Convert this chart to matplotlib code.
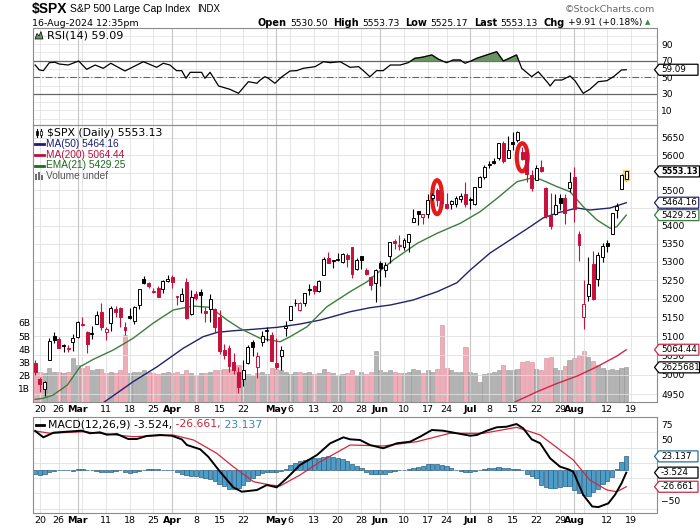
import matplotlib
matplotlib.use('Agg')
import matplotlib.pyplot as plt
import numpy as np
from matplotlib.patches import Ellipse, Polygon, Rectangle
from matplotlib.lines import Line2D
from matplotlib.ticker import FixedLocator, FixedFormatter, NullLocator

# ---- daily candles, 16-Feb-2024 .. 16-Aug-2024 (126 sessions) ----
prev_close = 5029.73
opens = [5031.13, 4989.32, 4963.03, 5038.83, 5100.92, 5093.00, 5074.60, 5067.20, 5085.36,
         5098.51, 5130.99, 5110.52, 5108.03, 5132.38, 5164.46, 5111.96, 5134.30, 5173.49, 5175.14,
         5123.31, 5154.77, 5139.09, 5181.69, 5253.43, 5242.48, 5219.52, 5228.85, 5226.31, 5248.03,
         5257.97, 5204.29, 5194.37, 5244.05, 5158.95, 5211.37, 5217.03, 5167.88, 5172.95, 5171.51,
         5149.67, 5064.59, 5068.97, 5031.52, 5005.44, 4987.33, 5028.85, 5084.65, 5019.88, 5084.65,
         5114.13, 5103.78,
         5029.03, 5049.32, 5122.78, 5142.42, 5187.20, 5168.98, 5189.03, 5225.49, 5233.08, 5221.10,
         5263.26, 5310.07, 5303.10, 5305.35, 5298.69, 5319.28, 5340.26, 5281.45, 5315.91, 5278.73,
         5259.77, 5243.21,
         5297.15, 5278.24, 5314.48, 5357.80, 5343.81, 5341.22, 5353.00, 5409.13, 5441.93, 5424.08,
         5431.11, 5476.15, 5499.99, 5466.77, 5459.58, 5460.73, 5460.71, 5473.59, 5488.48,
         5471.08, 5461.84, 5507.44, 5537.91, 5572.75, 5584.24, 5591.26, 5635.21, 5590.76, 5638.16,
         5644.09, 5610.07, 5608.56, 5543.37, 5528.04, 5565.30, 5505.84, 5428.70, 5433.67, 5476.55,
         5478.73, 5505.59,
         5537.84, 5376.63, 5151.14, 5206.42, 5293.13, 5252.57, 5312.70, 5351.58, 5376.98, 5442.72,
         5501.96, 5530.50]
highs = [5038.70, 4993.71, 4983.21, 5094.39, 5111.06, 5097.66, 5080.69, 5077.37, 5104.99,
         5140.33, 5149.67, 5114.54, 5127.97, 5165.62, 5189.26, 5124.66, 5179.87, 5179.14, 5176.85,
         5136.86, 5175.60, 5180.31, 5226.19, 5261.10, 5246.09, 5229.09, 5235.16, 5249.26, 5264.85,
         5263.95, 5208.34, 5228.75, 5256.59, 5222.18, 5219.57, 5224.81, 5178.43, 5211.78, 5175.03,
         5168.43, 5079.84, 5077.96, 5056.66, 5019.02, 5038.84, 5076.12, 5089.48, 5057.75, 5114.62,
         5123.49, 5110.83,
         5096.12, 5073.21, 5139.12, 5181.00, 5200.23, 5191.95, 5215.30, 5239.66, 5237.26, 5250.37,
         5311.76, 5325.49, 5305.45, 5325.32, 5324.32, 5323.18, 5341.88, 5311.65, 5315.91, 5282.27,
         5260.21, 5280.33,
         5302.11, 5298.80, 5354.16, 5362.35, 5375.08, 5365.79, 5375.95, 5447.25, 5441.93, 5432.39,
         5488.50, 5490.38, 5505.53, 5478.31, 5490.66, 5472.88, 5483.14, 5490.81, 5523.64,
         5479.55, 5509.69, 5539.27, 5570.33, 5583.11, 5590.75, 5635.39, 5642.45, 5655.56, 5666.94,
         5669.67, 5622.49, 5614.05, 5557.50, 5570.36, 5585.34, 5508.04, 5491.59, 5488.32, 5487.74,
         5489.46, 5551.51,
         5566.16, 5383.89, 5250.89, 5312.34, 5330.64, 5326.07, 5351.96, 5360.39, 5436.50, 5463.22,
         5546.23, 5553.73]
lows = [4999.52, 4955.02, 4946.00, 5038.83, 5081.46, 5068.91, 5057.29, 5058.35, 5061.89,
        5094.16, 5127.18, 5056.82, 5092.22, 5131.59, 5117.50, 5091.14, 5114.48, 5151.88, 5123.30,
        5104.35, 5145.47, 5131.59, 5171.55, 5240.66, 5229.87, 5216.09, 5203.42, 5213.92, 5245.82,
        5229.20, 5184.05, 5194.37, 5146.06, 5157.21, 5197.35, 5160.78, 5138.70, 5138.77, 5107.94,
        5052.47, 5039.83, 5007.25, 5001.89, 4953.56, 4969.40, 5027.96, 5047.02, 4990.58, 5073.14,
        5088.65, 5035.31,
        5013.45, 5011.05, 5101.22, 5142.42, 5178.96, 5165.86, 5180.41, 5209.68, 5211.16, 5217.98,
        5263.26, 5296.19, 5283.59, 5302.40, 5297.87, 5286.01, 5256.93, 5278.39, 5280.89, 5262.70,
        5222.10, 5191.68,
        5234.32, 5257.63, 5297.64, 5335.36, 5331.33, 5331.52, 5327.25, 5409.13, 5402.51, 5403.75,
        5420.40, 5471.32, 5455.56, 5452.03, 5447.59, 5446.56, 5451.87, 5467.54, 5451.12,
        5446.53, 5458.43, 5507.42, 5531.63, 5562.51, 5574.57, 5586.44, 5576.53, 5590.44, 5614.75,
        5639.02, 5584.81, 5522.81, 5497.04, 5528.04, 5550.90, 5419.98, 5390.95, 5430.70, 5444.44,
        5403.68, 5495.71,
        5410.42, 5302.03, 5119.26, 5193.56, 5195.54, 5233.03, 5300.53, 5328.12, 5376.98, 5421.92,
        5501.96, 5525.17]
closes = [5005.57, 4975.51, 4981.80, 5087.03, 5088.80, 5069.53, 5078.18, 5069.76, 5096.27,
          5137.08, 5130.95, 5078.65, 5104.76, 5157.36, 5123.69, 5117.94, 5175.27, 5165.31, 5150.48,
          5117.09, 5149.42, 5178.51, 5224.62, 5241.53, 5234.18, 5218.19, 5203.58, 5248.49, 5254.35,
          5243.77, 5205.81, 5211.49, 5147.21, 5204.34, 5202.39, 5209.91, 5160.64, 5199.06, 5123.41,
          5061.82, 5051.41, 5022.21, 5011.12, 4967.23, 5010.60, 5070.55, 5071.63, 5048.42, 5099.96,
          5116.17, 5035.69,
          5018.39, 5064.20, 5127.79, 5180.74, 5187.70, 5187.67, 5214.08, 5222.68, 5221.42, 5246.68,
          5308.15, 5297.10, 5303.27, 5308.13, 5321.41, 5307.01, 5267.84, 5304.72, 5306.04, 5266.95,
          5235.48, 5277.51,
          5283.40, 5291.34, 5354.03, 5352.96, 5346.99, 5360.79, 5375.32, 5421.03, 5433.74, 5431.60,
          5473.23, 5487.03, 5473.17, 5464.62, 5447.87, 5469.30, 5477.90, 5482.87, 5460.48,
          5475.09, 5509.01, 5537.02, 5567.19, 5572.85, 5576.98, 5633.91, 5584.54, 5615.35, 5631.22,
          5667.20, 5588.27, 5544.59, 5505.00, 5564.41, 5555.74, 5427.13, 5399.22, 5459.10, 5463.54,
          5436.44, 5522.30,
          5446.68, 5346.56, 5186.33, 5240.03, 5199.50, 5319.31, 5344.16, 5344.39, 5434.43, 5455.21,
          5543.22, 5553.13]
# volume, billions
volume = [2.5, 2.3, 2.2, 2.6, 2.3, 2.3, 2.2, 2.3, 3.3,
          2.8, 2.6, 2.7, 2.4, 2.5, 2.5, 2.2, 2.3, 2.2, 2.4, 5.1, 2.2, 2.3, 2.3, 2.4, 2.3, 2.2, 2.1, 2.2, 2.3,
          2.2, 2.3, 2.1, 2.4, 2.2, 2.0, 2.2, 2.2, 2.3, 2.4, 2.4, 2.5, 2.5, 2.4, 2.8, 2.3, 2.1, 2.0, 2.2, 2.3,
          2.1, 2.6,
          2.5, 2.4, 2.3, 2.1, 2.3, 2.3, 2.2, 2.3, 2.1, 2.2, 2.5, 2.3, 2.2, 2.0, 2.1, 2.2, 2.4, 2.0, 2.3, 2.1,
          2.3, 3.9,
          2.4, 2.3, 2.4, 2.3, 2.2, 2.2, 2.3, 2.5, 2.4, 2.2, 2.4, 2.3, 2.5, 5.8, 2.6, 2.4, 2.3, 2.3, 4.2,
          2.3, 2.2, 1.5, 2.1, 2.2, 2.3, 2.4, 2.8, 2.4, 2.4, 2.5, 3.0, 3.1, 3.0, 2.5, 2.4, 3.3, 3.4, 2.6, 2.4,
          2.7, 3.2,
          3.3, 3.6, 3.9, 3.4, 3.1, 2.8, 2.6, 2.4, 2.5, 2.4, 2.6, 2.625681]

# overlays (x = session index)
ma50_x = [14.4, 20.7, 25.8, 31.3, 35.5, 38.5, 41.9, 46.1, 51.2, 56.0, 60.3, 66.6, 70.8, 75.1,
          79.9, 85.0, 89.2, 92.0, 96.2, 100.4, 104.7, 107.4, 110.4, 114.6, 117.3, 121.6, 125]
ma50 = [4927.6, 4981.4, 5020.2, 5068.2, 5098.6, 5110.2, 5114.4, 5118.2, 5123.5, 5132.2, 5142.8,
        5164.9, 5175.6, 5182.9, 5196.2, 5218.6, 5242.9, 5277.4, 5324.0, 5359.9, 5396.9, 5421.2,
        5435.2, 5449.3, 5443.6, 5449.3, 5464.16]
ma200_x = [101.1, 106.1, 110.4, 114.6, 118.8, 123.0, 125]
ma200 = [4927.6, 4955.7, 4977.3, 4996.1, 5020.2, 5048.0, 5064.44]
ema21_x = [0, 1.7, 3.8, 6.8, 9.5, 12.3, 16.5, 20.7, 24.9, 29.2, 33.4, 37.0, 40.6, 43.3, 47.6,
           51.8, 53.9, 57.5, 61.7, 66.6, 70.2, 75.7, 80.8, 85.0, 89.9, 94.1, 97.7, 101.9, 104.7,
           106.8, 110.4, 113.1, 115.9, 118.8, 121.6, 123.0, 125]
ema21 = [4936.3, 4938.9, 4947.3, 4972.9, 5020.2, 5039.4, 5063.7, 5094.4, 5134.0, 5169.5, 5180.1,
         5176.7, 5142.8, 5120.8, 5094.4, 5085.5, 5098.6, 5125.1, 5178.3, 5218.6, 5245.6, 5304.7,
         5350.7, 5378.5, 5406.4, 5438.9, 5476.7, 5523.8, 5533.5, 5530.7, 5509.5, 5495.4, 5452.9,
         5415.6, 5392.4, 5396.9, 5429.25]

rsi_x = [0, 0.9, 1.75, 3.0, 4.2, 5.1, 7.0, 9.2, 10.9, 12.7, 14.4, 16.0, 19.0, 22.9, 25.7, 27.1,
         28.5, 29.9, 31.0, 31.9, 32.8, 35.2, 35.9, 37.0, 38.8, 41.2, 43.0, 45.1, 46.9, 47.6, 48.6,
         49.3, 50.7, 52.2, 53.9, 55.3, 56.7, 59.2, 61.0, 62.4, 64.5, 66.6, 68.4, 69.4, 70.8, 72.2,
         73.6, 75.1, 77.2, 78.9, 80.3, 81.8, 83.9, 85.3, 87.0, 88.4, 89.9, 90.9, 92.3, 93.4, 95.5,
         97.6, 99.0, 101.8, 102.9, 105.0, 106.4, 108.5, 108.9, 109.9, 111.4, 113.1, 114.2, 115.9,
         117.3, 119.1, 120.9, 122.3, 124.0, 125]
rsi = [64.8, 58.8, 58.0, 67.6, 68.1, 66.0, 64.8, 69.6, 59.6, 64.8, 60.8, 66.9, 57.6, 68.8, 62.0,
       66.9, 64.8, 58.0, 58.0, 48.8, 56.0, 56.0, 48.8, 56.0, 39.5, 35.5, 30.7, 44.7, 42.8, 46.7,
       50.7, 48.8, 42.8, 50.7, 57.6, 58.0, 60.8, 62.8, 68.8, 67.6, 68.8, 62.0, 62.8, 58.0, 50.7,
       58.0, 58.0, 64.8, 64.8, 67.6, 72.9, 74.1, 76.9, 71.7, 67.6, 70.8, 70.8, 66.9, 70.0, 72.9,
       76.9, 80.8, 69.6, 76.9, 60.8, 50.7, 56.7, 42.8, 39.5, 46.7, 46.7, 51.6, 45.5, 30.7, 35.5,
       44.7, 45.9, 50.7, 58.8, 59.09]

macd_x = [0, 1.75, 3.9, 6.7, 9.9, 11.6, 13.7, 15.2, 17.3, 19.7, 21.5, 23.6, 26.4, 28.9, 31.0,
          32.1, 34.9, 36.6, 39.1, 41.9, 43.7, 46.9, 49.0, 51.1, 53.2, 56.0, 59.6, 62.4, 65.2, 66.6,
          68.7, 70.8, 73.6, 76.5, 79.3, 81.4, 83.9, 86.3, 89.2, 92.0, 93.4, 95.5, 97.6, 99.7, 101.8,
          103.2, 105.0, 106.8, 108.9, 111.0, 112.7, 113.8, 115.9, 117.8, 119.1, 121.2, 122.6, 124.0, 125]
macd = [64.8, 54.4, 62.0, 63.6, 65.3, 61.0, 62.6, 58.7, 59.8, 51.6, 51.6, 56.6, 58.2, 57.0, 51.1,
        41.8, 34.8, 22.6, -2.0, -27.6, -34.8, -32.0, -23.8, -27.6, -12.8, 9.0, 25.4, 44.6, 54.4,
        51.1, 50.0, 41.8, 36.4, 44.6, 47.2, 55.4, 66.4, 65.2, 61.0, 57.0, 58.2, 65.2, 70.8, 71.8,
        76.2, 69.2, 51.1, 44.6, 20.0, 6.2, 2.0, -2.0, -40.0, -59.0, -60.0, -54.0, -40.0, -21.0, -3.524]
sig_x = [0, 3.2, 10.2, 20.8, 29.2, 33.5, 38.4, 41.9, 46.2, 49.7, 51.8, 56.0, 60.3, 66.6, 73.6,
         80.7, 87.7, 94.8, 101.8, 104.7, 106.8, 111.0, 113.8, 117.3, 120.9, 123.0, 125]
signal = [64.8, 61.0, 63.6, 55.4, 58.2, 50.0, 28.2, 6.2, -18.4, -23.8, -25.4, -7.4, 14.4, 41.8,
          40.2, 47.2, 61.0, 61.0, 70.8, 63.6, 58.2, 33.6, 17.2, -15.6, -32.0, -34.8, -26.661]
hist = [-6, -7, -5, -3, -1, 0, 1, 0, -1,
        2, 2, 1, 0, -1, -2, -2, -2, -1, 0,
        -3, -4, -3, -1, 1, 3, 3, 2, 1, 1,
        0, -2, -5, -8, -9, -9, -10, -12, -14, -18,
        -22, -26, -30, -31, -29, -24, -18, -12, -7, -4,
        -3, -2, -3, -1, 3, 9, 13, 16, 18, 19,
        20, 21, 22, 23, 22, 20, 19, 15, 11, 8,
        4, -2, -5, -6, -6, -5, -2, -1, 0, 1,
        2, 4, 6, 8, 10, 11, 11, 9, 7, 4,
        1, -1, -3, -3, -1, 1, 3, 4, 4, 5,
        4, 4, 3, 3, 1, -5, -9, -13, -23, -27,
        -28, -28, -27, -25, -26, -32, -37, -40, -42, -36,
        -30, -22, -17, -10, 3, 14, 23.137]

week_idx = [1, 5, 10, 15, 20, 25, 29, 34, 39, 44, 49, 54, 59, 64, 69, 73, 78, 83, 87, 92, 96,
            101, 106, 111, 116, 121, 126]
month_idx = [9, 29, 51, 73, 92, 114]
tick_idx = [1, 5, 9, 15, 20, 25, 29, 34, 39, 44, 51, 54, 59, 64, 69, 73, 78, 83, 87, 92, 96,
            101, 106, 111, 114, 121, 126]
tick_lbl = ['20', '26', 'Mar', '11', '18', '25', 'Apr', '8', '15', '22', 'May', '6', '13', '20',
            '28', 'Jun', '10', '17', '24', 'Jul', '8', '15', '22', '29', 'Aug', '12', '19']
price_ticks = list(range(4950, 5651, 50))

assert len(opens) == len(highs) == len(lows) == len(closes) == len(volume) == len(hist) == 126

RED = '#c8103c'
W, H = 700, 530
fig = plt.figure(figsize=(W / 100, H / 100), dpi=100)
fig.patch.set_facecolor('white')


def fp(x, y):
    return (x / W, 1 - y / H)


def panel(top, bottom):
    ax = fig.add_axes([33 / W, 1 - bottom / H, 624 / W, (bottom - top) / H])
    ax.set_xlim(-0.45, 131.5)
    for s in ax.spines.values():
        s.set_color('#8c8c8c')
        s.set_linewidth(0.8)
    ax.tick_params(length=0, labelsize=6.6, pad=3)
    for i in week_idx:
        ax.axvline(i, color='#e0e0e0', lw=0.6, zorder=0.5)
    for i in month_idx:
        ax.axvline(i, color='#c6c6c6', lw=0.8, zorder=0.6)
    return ax


def date_axis(ax):
    ax.set_xticks(tick_idx)
    ax.set_xticklabels(tick_lbl, fontsize=6.8)
    for lab in ax.get_xticklabels():
        if lab.get_text().isalpha():
            lab.set_fontweight('bold')
    ax.tick_params(axis='x', pad=2)


ax_rsi = panel(28, 125)
ax_p = panel(125, 402)
ax_m = panel(417, 513)
ax_v = ax_p.twinx()
ax_v.set_zorder(1)
ax_p.set_zorder(2)
ax_p.patch.set_visible(False)

x = np.arange(len(closes))
o = np.array(opens); hi = np.array(highs); lo = np.array(lows); c = np.array(closes)
prev = np.concatenate([[prev_close], c[:-1]])
col = np.where(c >= prev, 'black', RED)
face = np.where(c >= o, 'white', col)

# ---- RSI ----
ax_rsi.set_ylim(-7.5, 109.4)
for v in range(0, 101, 10):
    ax_rsi.axhline(v, color='#e4e4e4', lw=0.6, zorder=0.4)
ax_rsi.axhline(70, color='#666666', lw=0.9, zorder=1)
ax_rsi.axhline(30, color='#666666', lw=0.9, zorder=1)
ax_rsi.axhline(50, color='#666666', lw=0.8, dashes=(6, 2, 1, 2), zorder=1)
r = np.array(rsi)
ax_rsi.fill_between(rsi_x, r, 70, where=r > 70, interpolate=True, color='#6b9463', zorder=2)
ax_rsi.plot(rsi_x, rsi, color='black', lw=0.9, zorder=3)
ax_rsi.yaxis.tick_right()
ax_rsi.set_yticks([10, 30, 50, 70, 90])
ax_rsi.set_xticks([])

# ---- volume (scale labels in the left margin) ----
ax_v.bar(x, np.array(volume) * 1e9, width=0.86,
         color=np.where(c >= prev, '#b3b3b3', '#efadb8'),
         edgecolor=np.where(c >= prev, '#959595', '#d68c9a'), lw=0.4, zorder=2)
ax_v.set_ylim(0, 21e9)
ax_v.set_xlim(-0.45, 131.5)
ax_v.set_yticks([v * 1e9 for v in range(1, 7)])
ax_v.set_yticklabels([f'{v}B' for v in range(1, 7)])
ax_v.yaxis.set_ticks_position('left')
ax_v.tick_params(axis='y', length=0, pad=2, labelsize=6.6, labelleft=True, labelright=False)
for s in ax_v.spines.values():
    s.set_visible(False)

# ---- price ----
ax_p.set_yscale('log')
ax_p.set_ylim(4929.6, 5688)
ax_p.yaxis.set_major_locator(FixedLocator(price_ticks))
ax_p.yaxis.set_major_formatter(FixedFormatter([str(t) for t in price_ticks]))
ax_p.yaxis.set_minor_locator(NullLocator())
ax_p.yaxis.tick_right()
ax_p.tick_params(axis='y', length=0, labelsize=6.6, pad=3)
for t in price_ticks:
    ax_p.axhline(t, color='#e0e0e0', lw=0.6, zorder=0.5)

# marked sessions
ax_p.add_patch(Ellipse((85, 5480), 2.1, 96, fc='white', ec='#e31b1b', lw=3, zorder=2.5))
ax_p.add_patch(Ellipse((103, 5594), 2.3, 81, fc='white', ec='#e31b1b', lw=3, zorder=2.5))

ax_p.plot(ma50_x, ma50, color='#22226e', lw=1.0, zorder=2.8)
ax_p.plot(ma200_x, ma200, color='#cc2848', lw=1.0, zorder=2.8)
ax_p.plot(ema21_x, ema21, color='#3d7d3d', lw=1.0, zorder=2.8)

ax_p.bar(x[-1:], [max(abs(c[-1] - o[-1]), 1)], bottom=[min(c[-1], o[-1])], width=0.9,
         fc='none', ec='#f3d36b', lw=2.5, zorder=3.5)
ax_p.vlines(x, lo, hi, colors=col, lw=0.8, zorder=3)
ax_p.bar(x, np.maximum(np.abs(c - o), 0.8), bottom=np.minimum(c, o), width=0.62,
         color=face, edgecolor=col, lw=0.7, zorder=4)
date_axis(ax_p)

# ---- MACD ----
ax_m.set_ylim(-69.7, 87.7)
for v in [-62.5, -37.5, -12.5, 12.5, 37.5, 62.5]:
    ax_m.axhline(v, color='#e0e0e0', lw=0.6, zorder=0.4)
ax_m.bar(x, hist, width=0.9, color='#4d9dcb', edgecolor='#2d5f80', lw=0.5, zorder=2)
ax_m.plot(sig_x, signal, color='#d0283c', lw=0.9, zorder=3)
ax_m.plot(macd_x, macd, color='black', lw=1.4, zorder=4)
ax_m.yaxis.tick_right()
ax_m.set_yticks([75, 50, 25, 0, -25, -50])
date_axis(ax_m)

renderer = fig.canvas.get_renderer()


def tag(ax, val, txt, ec, bold=False):
    y = H - ax.transData.transform((0, val))[1]
    t = fig.text(*fp(661, y), txt, fontsize=5.9 if bold else 6.3,
                 fontweight='bold' if bold else 'normal', ha='left', va='center', zorder=21)
    w = t.get_window_extent(renderer).width
    right = min(max(698, 661 + w + 2), 699.5)
    h = 5.5
    pts = [fp(654.5, y), fp(659, y - h), fp(right, y - h), fp(right, y + h), fp(659, y + h)]
    fig.add_artist(Polygon(pts, closed=True, transform=fig.transFigure, fc='white', ec=ec,
                           lw=0.9, zorder=20))


tag(ax_rsi, rsi[-1], '59.09', 'black')
tag(ax_p, closes[-1], '5553.13', 'black', bold=True)
tag(ax_p, ma50[-1], '5464.16', '#22226e')
tag(ax_p, ema21[-1], '5429.25', '#3d7d3d')
tag(ax_p, ma200[-1], '5064.44', '#cc2848')
tag(ax_v, volume[-1] * 1e9, '2625681', 'black')
tag(ax_m, hist[-1], '23.137', '#2d6f9a')
tag(ax_m, macd[-1], '-3.524', 'black')
tag(ax_m, signal[-1], '-26.661', '#cc2848')

# ---- header ----
fig.text(*fp(32, 9), r'\$SPX', fontsize=10, fontweight='bold', family='Liberation Sans', va='center')
fig.text(*fp(70, 9.5), 'S&P 500 Large Cap Index', fontsize=7.5, family='Liberation Sans', va='center')
fig.text(*fp(197, 9.5), 'INDX', fontsize=7, family='Liberation Sans', va='center')
fig.text(*fp(32, 23), '16-Aug-2024 12:35pm', fontsize=6.8, va='center')
fig.text(*fp(655, 9), '©StockCharts.com', fontsize=6.8, color='#666666', ha='right', va='center')

stats = [('Open', True), ('5530.50', False), ('High', True), ('5553.73', False),
         ('Low', True), ('5525.17', False), ('Last', True), ('5553.13', False),
         ('Chg', True), ('+9.91 (+0.18%)', False)]
pieces = []
for s, b in stats:
    t = fig.text(0, 1 - 23 / H, s, fontsize=7.0 if b else 6.6,
                 fontweight='bold' if b else 'normal', va='center')
    pieces.append((t, t.get_window_extent(renderer).width, b))
total = sum(w for _, w, _ in pieces) + sum(3 if b else 6 for _, _, b in pieces[:-1])
xpos = 642 - total
for t, w, b in pieces:
    t.set_x(xpos / W)
    xpos += w + (3 if b else 6)
fig.text(*fp(645, 22.5), '▲', fontsize=5.0, color='#3a8a45', va='center')

# ---- legends ----
def fline(x0, x1, y, color, lw=2.0):
    fig.add_artist(Line2D([x0 / W, x1 / W], [1 - y / H, 1 - y / H], color=color, lw=lw,
                          transform=fig.transFigure, zorder=22))


fig.add_artist(Polygon([fp(35, 39), fp(37, 33.5), fp(39, 36), fp(41, 31.5), fp(43, 39)],
                       closed=True, transform=fig.transFigure, fc='#6b9463', ec='black',
                       lw=0.5, zorder=22))
fig.text(*fp(47, 35.5), 'RSI(14) 59.09', fontsize=8, va='center', zorder=22)

fig.add_artist(Line2D([36.5 / W] * 2, [1 - 128.5 / H, 1 - 137 / H], color='black', lw=0.8,
                      transform=fig.transFigure, zorder=22))
fig.add_artist(Line2D([41 / W] * 2, [1 - 129 / H, 1 - 136.5 / H], color='black', lw=0.8,
                      transform=fig.transFigure, zorder=22))
fig.add_artist(Rectangle(fp(35.5, 134.5), 2 / W, 4 / H, transform=fig.transFigure,
                         fc='black', ec='black', lw=0.5, zorder=23))
fig.add_artist(Rectangle(fp(40, 135), 2 / W, 4 / H, transform=fig.transFigure,
                         fc='white', ec='black', lw=0.5, zorder=23))
fig.text(*fp(47, 132.5), r'\$SPX (Daily) 5553.13', fontsize=7.8, va='center', zorder=22)

for yy, s, colr in [(144, 'MA(50) 5464.16', '#1c1c70'), (154.5, 'MA(200) 5064.44', '#b5123e'),
                    (165.5, 'EMA(21) 5429.25', '#1e6b1e')]:
    fline(35, 44, yy, colr)
    fig.text(*fp(45.5, yy), s, fontsize=7.3, family='Liberation Sans', color=colr,
             va='center', zorder=22)
for bx, bh in [(35, 6), (38, 8), (41, 5)]:
    fig.add_artist(Rectangle(fp(bx, 180), 2 / W, bh / H, transform=fig.transFigure,
                             fc='#707070', ec='none', zorder=22))
fig.text(*fp(45.5, 176), 'Volume undef', fontsize=7.3, family='Liberation Sans',
         color='#555555', va='center', zorder=22)

# MACD legend, pieces in three colours
fline(36, 44, 424.5, 'black')
xpos = 48
for s, colr in [('MACD(12,26,9) -3.524,', 'black'), (' -26.661,', '#c8283c'),
                (' 23.137', '#3d86b0')]:
    t = fig.text(*fp(xpos, 424.5), s, fontsize=7.8, color=colr, va='center', zorder=22)
    xpos += t.get_window_extent(renderer).width

plt.savefig('out.png', dpi=100)
